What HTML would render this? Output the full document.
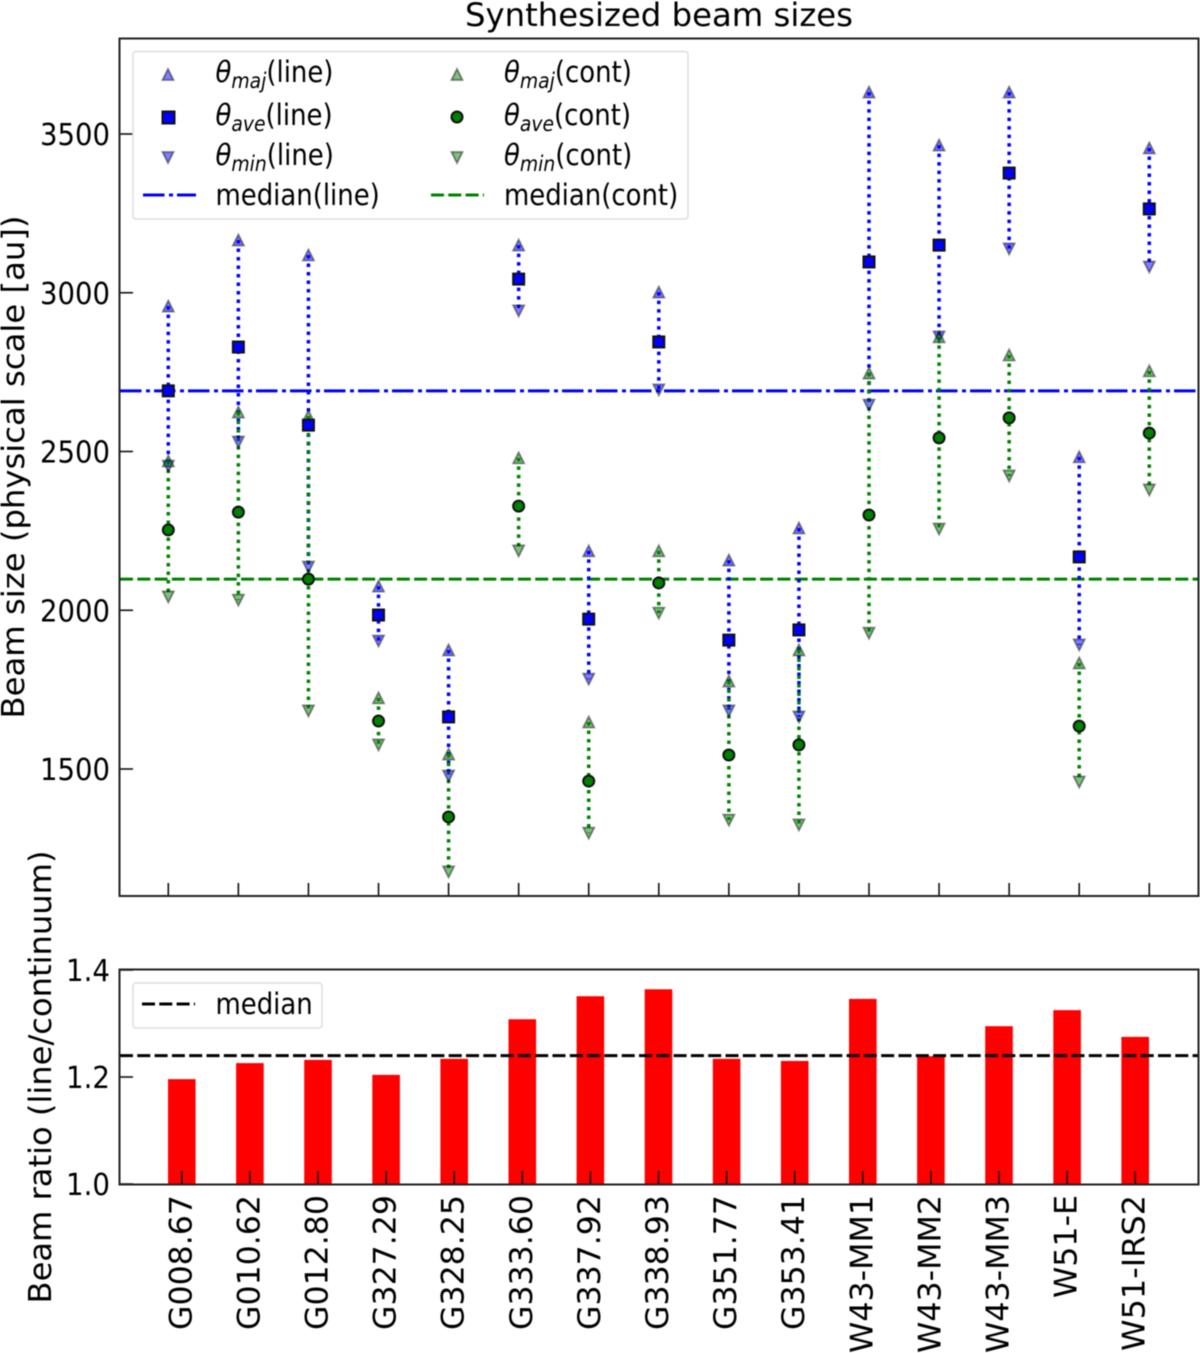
<!DOCTYPE html>
<html>
<head>
<meta charset="utf-8">
<title>Synthesized beam sizes</title>
<style>
html,body{margin:0;padding:0;background:#fff;width:1200px;height:1353px;overflow:hidden}
svg{display:block;filter:blur(0.4px)}
text{font-family:"DejaVu Sans","Liberation Sans",sans-serif;fill:#000}
.leg{font-size:29px}
.it{font-style:italic}
</style>
</head>
<body>
<svg id="chart" xmlns="http://www.w3.org/2000/svg" width="1200" height="1353" viewBox="0 0 1200 1353">
  <rect x="0" y="0" width="1200" height="1353" fill="#fff"/>
  <text x="659" y="26" text-anchor="middle" font-size="32" textLength="388" lengthAdjust="spacingAndGlyphs">Synthesized beam sizes</text>
  <text transform="translate(24,467) rotate(-90)" text-anchor="middle" font-size="31" textLength="503" lengthAdjust="spacingAndGlyphs">Beam size (physical scale [au])</text>
  <text transform="translate(51,1077) rotate(-90)" text-anchor="middle" font-size="31" textLength="453" lengthAdjust="spacingAndGlyphs">Beam ratio (line/continuum)</text>
  <g id="top-plot"></g>
  <rect x="119.5" y="38.5" width="1079" height="857.5" fill="none" stroke="#222" stroke-width="2"/>
  <g id="bottom-plot"></g>
  <rect x="119.5" y="969.5" width="1079" height="215" fill="none" stroke="#222" stroke-width="2"/>

  <g>
    <rect x="133" y="51.5" width="555" height="167.5" rx="3" fill="#fff" fill-opacity="0.85" stroke="#ddd" stroke-width="1.5"/>
    <polygon points="168,69 173.5,80 162.5,80" fill="rgba(0,0,255,0.5)" stroke="rgba(0,0,0,0.45)" stroke-width="1.8"/>
    <rect x="162.5" y="111.5" width="12" height="12" fill="#0000ff" stroke="#111" stroke-width="2"/>
    <polygon points="162.5,152 173.5,152 168,163" fill="rgba(0,0,255,0.5)" stroke="rgba(0,0,0,0.45)" stroke-width="1.8"/>
    <line x1="143" y1="195" x2="196" y2="195" stroke="#0000ff" stroke-width="3" stroke-dasharray="21.5 4.5 4 4"/>
    <polygon points="457,69 462.5,80 451.5,80" fill="rgba(0,128,0,0.5)" stroke="rgba(0,0,0,0.45)" stroke-width="1.8"/>
    <circle cx="457" cy="117" r="5.5" fill="#008000" stroke="#111" stroke-width="2"/>
    <polygon points="451.5,152 462.5,152 457,163" fill="rgba(0,128,0,0.5)" stroke="rgba(0,0,0,0.45)" stroke-width="1.8"/>
    <line x1="431" y1="195" x2="484" y2="195" stroke="#008000" stroke-width="3" stroke-dasharray="13 4.3"/>
    <g transform="translate(215.5,0) scale(0.895,1)">
      <text class="leg" y="82"><tspan class="it">θ</tspan><tspan class="it" font-size="21" dy="6">maj</tspan><tspan dy="-6">(line)</tspan></text>
      <text class="leg" y="125"><tspan class="it">θ</tspan><tspan class="it" font-size="21" dy="6">ave</tspan><tspan dy="-6">(line)</tspan></text>
      <text class="leg" y="165"><tspan class="it">θ</tspan><tspan class="it" font-size="21" dy="6">min</tspan><tspan dy="-6">(line)</tspan></text>
      <text class="leg" y="205">median(line)</text>
    </g>
    <g transform="translate(504,0) scale(0.895,1)">
      <text class="leg" y="82"><tspan class="it">θ</tspan><tspan class="it" font-size="21" dy="6">maj</tspan><tspan dy="-6">(cont)</tspan></text>
      <text class="leg" y="125"><tspan class="it">θ</tspan><tspan class="it" font-size="21" dy="6">ave</tspan><tspan dy="-6">(cont)</tspan></text>
      <text class="leg" y="165"><tspan class="it">θ</tspan><tspan class="it" font-size="21" dy="6">min</tspan><tspan dy="-6">(cont)</tspan></text>
      <text class="leg" y="205">median(cont)</text>
    </g>
  </g>

  <g>
    <rect x="133" y="983" width="189" height="45" rx="3" fill="#fff" fill-opacity="0.85" stroke="#ddd" stroke-width="1.5"/>
    <line x1="142" y1="1004" x2="195" y2="1004" stroke="#000" stroke-width="3" stroke-dasharray="13 4.3"/>
    <g transform="translate(215.5,0) scale(0.895,1)">
      <text class="leg" y="1014">median</text>
    </g>
  </g>
</svg>
<script>
var categories = ["G008.67","G010.62","G012.80","G327.29","G328.25","G333.60","G337.92","G338.93","G351.77","G353.41","W43-MM1","W43-MM2","W43-MM3","W51-E","W51-IRS2"];
var lineMaj = [2958,3166,3119,2076,1875,3150,2187,3002,2158,2259,3632,3465,3632,2483,3456];
var lineAve = [2691,2829,2583,1985,1664,3043,1972,2845,1906,1938,3097,3150,3377,2168,3264];
var lineMin = [2454,2530,2136,1903,1478,2943,1783,2694,1683,1664,2646,2861,3138,1891,3081];
var contMaj = [2470,2624,2612,1724,1547,2480,1648,2187,1777,1875,2747,2861,2804,1834,2754];
var contAve = [2253,2309,2098,1651,1349,2328,1462,2086,1544,1576,2300,2543,2606,1635,2558];
var contMin = [2042,2032,1683,1576,1176,2187,1298,1991,1339,1324,1928,2256,2423,1459,2379];
var medianLine = 2691;
var medianCont = 2098;
var ratios = [1.196,1.226,1.232,1.204,1.234,1.308,1.351,1.364,1.234,1.230,1.346,1.239,1.295,1.325,1.275];
var medianRatio = 1.24;
var topTicks = [1500,2000,2500,3000,3500];
var bottomTicks = [1.0,1.2,1.4];

var NS = 'http://www.w3.org/2000/svg';
var topG = document.getElementById('top-plot');
var botG = document.getElementById('bottom-plot');

function topX(i){ return 168.3 + i * 70.07; }
function topY(v){ return 769 - (v - 1500) * 0.3175; }
function botX(i){ return 181.8 + i * 68.1; }
function botY(v){ return 1184 - (v - 1) * 535; }
/* rotated label length on the vertically stretched figure */
function labelLength(c){ return c.length * 19.3 + (c.charAt(0) === 'W' ? 22 : 0) - (c.indexOf('.') > 0 ? 0 : 0); }

function make(parent, tag, attrs, txt){
  var el = document.createElementNS(NS, tag);
  for (var k in attrs) el.setAttribute(k, attrs[k]);
  if (txt !== undefined) el.textContent = txt;
  parent.appendChild(el);
  return el;
}
function lineEl(parent, name, x1, y1, x2, y2, stroke, width, dash){
  var a = {x1:x1, y1:y1, x2:x2, y2:y2, stroke:stroke, 'stroke-width':width};
  if (dash) a['stroke-dasharray'] = dash;
  var el = make(parent, 'line', a);
  
  
  return el;
}
function triangle(name, x, y, up, fill){
  var w = 5.5, h = 5.5;
  var pts = up
    ? [x, y - h, x + w, y + h, x - w, y + h]
    : [x - w, y - h, x + w, y - h, x, y + h];
  var el = make(topG, 'polygon', {points: pts.join(' '), fill: fill, stroke: 'rgba(0,0,0,0.45)', 'stroke-width': 1.8});
  
  
}

/* ticks */
topTicks.forEach(function(t){
  var y = topY(t);
  lineEl(topG, 'top-y-tick-' + t, 120, y, 133, y, '#111', 1.6);
  var lab = make(topG, 'text', {x: 110, y: y + 11, 'text-anchor': 'end', 'font-size': 30, textLength: 70, lengthAdjust: 'spacingAndGlyphs'}, String(t));
  
  
});
categories.forEach(function(c, i){
  lineEl(topG, 'top-x-tick-' + c, topX(i), 883, topX(i), 896, '#111', 1.6);
});

/* medians */
lineEl(topG, 'median-line', 120, topY(medianLine), 1198, topY(medianLine), '#0000ff', 3, '21.5 4.5 4 4');
lineEl(topG, 'median-cont', 120, topY(medianCont), 1198, topY(medianCont), '#008000', 3, '13 4.3');

/* dotted ranges */
categories.forEach(function(c, i){
  lineEl(topG, 'range-line-' + c, topX(i), topY(lineMaj[i]), topX(i), topY(lineMin[i]), '#0000ff', 3.5, '3.5 5');
});
categories.forEach(function(c, i){
  lineEl(topG, 'range-cont-' + c, topX(i), topY(contMaj[i]), topX(i), topY(contMin[i]), '#008000', 3.5, '3.5 5');
});

/* triangles */
categories.forEach(function(c, i){
  triangle('maj-line-' + c, topX(i), topY(lineMaj[i]), true, 'rgba(0,0,255,0.5)');
  triangle('min-line-' + c, topX(i), topY(lineMin[i]), false, 'rgba(0,0,255,0.5)');
});
categories.forEach(function(c, i){
  triangle('maj-cont-' + c, topX(i), topY(contMaj[i]), true, 'rgba(0,128,0,0.5)');
  triangle('min-cont-' + c, topX(i), topY(contMin[i]), false, 'rgba(0,128,0,0.5)');
});

/* average markers */
categories.forEach(function(c, i){
  var sq = make(topG, 'rect', {x: topX(i) - 5.5, y: topY(lineAve[i]) - 5.5, width: 11, height: 11, fill: '#0000ff', stroke: '#111', 'stroke-width': 2});
  
  
});
categories.forEach(function(c, i){
  var ci = make(topG, 'circle', {cx: topX(i), cy: topY(contAve[i]), r: 5.5, fill: '#008000', stroke: '#111', 'stroke-width': 2});
  
  
});

/* bottom panel */
var labelSpan = {"W43-MM1":158,"W43-MM2":158,"W43-MM3":158,"W51-E":103,"W51-IRS2":156};
categories.forEach(function(c, i){
  var x = botX(i);
  var b = make(botG, 'rect', {x: x - 13.8, y: botY(ratios[i]), width: 27.6, height: botY(1) - botY(ratios[i]), fill: '#ff0000'});
  
  
  lineEl(botG, 'bottom-x-tick-' + c, x, 1171, x, 1184, '#111', 1.6);
  var lab = make(botG, 'text', {transform: 'translate(' + (x + 9.5) + ',1195) rotate(-90)', 'text-anchor': 'end', 'font-size': 31}, c);
  
  
  lab.setAttribute('textLength', labelSpan[c] || 135);
  lab.setAttribute('lengthAdjust', 'spacingAndGlyphs');
});
lineEl(botG, 'median-ratio', 120, botY(medianRatio), 1198, botY(medianRatio), '#000', 3, '13 4.3');
bottomTicks.forEach(function(t){
  var y = botY(t);
  lineEl(botG, 'bottom-y-tick-' + t.toFixed(1), 120, y, 133, y, '#111', 1.6);
  var lab = make(botG, 'text', {x: 110, y: y + 11, 'text-anchor': 'end', 'font-size': 30, textLength: 44, lengthAdjust: 'spacingAndGlyphs'}, t.toFixed(1));
  
  
});
</script>
</body>
</html>
